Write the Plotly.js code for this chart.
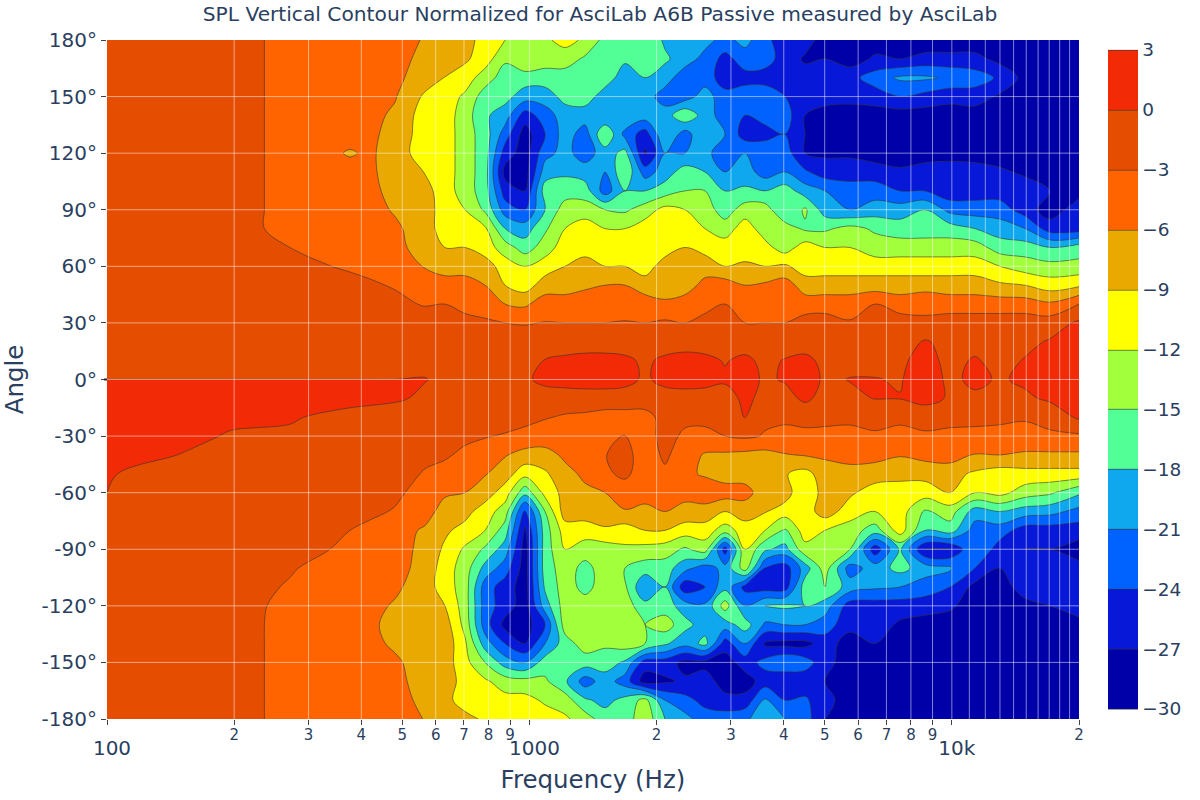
<!DOCTYPE html>
<html>
<head>
<meta charset="utf-8">
<script src="https://cdn.plot.ly/plotly-3.0.1.min.js"></script>
<style>body{margin:0;background:#fff}</style>
</head>
<body>
<div id="chart" style="width:1200px;height:800px"></div>
<script>
var freqs = [100,141,196,271,376,419,481,566,631,704,785,876,976,1089,1214,1354,1510,1684,1878,2094,2335,2604,2904,3238,3612,4028,4492,5009,5741,6580,7541,8642,9902,11350,13000,14900,17080,20000];
var angles = [180,170,160,150,140,130,120,110,100,90,80,70,60,50,40,30,20,10,0,-10,-20,-30,-40,-50,-60,-70,-80,-90,-100,-110,-120,-130,-140,-150,-160,-170,-180];
var spl = [
[-2,-2,-2.2,-3.6,-4.5,-4.7,-5,-6.2,-6.2,-8,-10,-12,-13.5,-12.5,-11,-12.5,-16,-16,-15.5,-18.5,-19.5,-20,-22,-20,-23,-26,-25.5,-28.5,-28.5,-28.5,-29,-29,-29,-29,-29,-29,-29,-29],
[-2,-2,-2.2,-3.6,-4.5,-4.7,-5,-6.8,-7,-8.5,-10.5,-14.5,-12,-13.5,-13.5,-15.5,-16.5,-17.5,-16.5,-17.5,-19.5,-22,-25,-22.5,-23,-25,-27.5,-27,-28.5,-26.5,-27,-26,-26,-26,-28,-28.5,-29,-29],
[-2,-2,-2.2,-3.6,-4.5,-4.8,-5.3,-7.5,-9.1,-10.5,-13.5,-16.5,-16.5,-16.5,-16.5,-16.5,-16.5,-19.5,-18,-19.5,-23,-22.5,-25.5,-25,-25,-25.5,-25.5,-25,-25,-22.5,-20.5,-20.5,-21.5,-22.5,-24.5,-28,-28.5,-29],
[-2,-2,-2.2,-3.6,-4.5,-5,-5.8,-9.5,-10.5,-12.5,-16.5,-17,-19.5,-19.5,-17,-16.5,-19.5,-21,-19.5,-22.5,-22.5,-19.5,-23,-22.5,-22.5,-24,-25,-25.5,-26,-25.5,-24,-25,-26,-25.5,-27.5,-28,-28.5,-29],
[-2,-2,-2.2,-3.6,-4.5,-5.2,-6.5,-10.5,-10.5,-13.5,-17.5,-19.5,-25.5,-22.5,-19.5,-19.5,-21,-18,-19.5,-19.5,-15.5,-19.5,-22.5,-24,-22.5,-22.5,-27,-28.5,-28.5,-28.5,-28.5,-28.5,-28.5,-28.5,-28.5,-28.5,-29,-29],
[-2,-2,-2.2,-3.6,-4.8,-5.4,-7,-10.5,-10.5,-13.5,-16.5,-22.5,-28.5,-24,-19.5,-22.5,-15,-22,-25.5,-18,-22.5,-18,-21,-25.5,-25.5,-24,-27,-28.5,-28.5,-28.5,-28.5,-28.5,-28.5,-28.5,-28.5,-29,-29,-29],
[-2,-2,-2.2,-3.6,-6.3,-5.5,-7.5,-10.5,-10.5,-13.5,-16.5,-25.5,-28.5,-22,-20,-22.5,-19.5,-17,-27.5,-21,-21,-19.5,-24,-21,-21,-22.5,-27,-27.5,-27.5,-28.5,-28.5,-28.5,-28.5,-28.5,-28.5,-28.5,-29,-29],
[-2,-2,-2.2,-3.6,-4.8,-5.4,-7.5,-9.1,-10.5,-13.5,-16.5,-28,-28.5,-19.5,-18.5,-19.5,-21,-15.5,-22.5,-19.5,-16.5,-18,-21,-19.5,-22.5,-21,-23.5,-25.5,-25.5,-25.5,-26.5,-25.5,-25,-25.5,-26.5,-27.5,-28.5,-28.5],
[-2,-2,-2.2,-3.6,-4.5,-5.2,-7,-8,-10.5,-13.5,-16.5,-25.5,-27,-16.5,-16.5,-16.5,-22.5,-18,-18,-16.5,-15,-15,-18,-17.5,-18,-16.5,-19.5,-21,-22.5,-22.5,-24,-24,-26,-25.5,-25.5,-25.5,-27,-28],
[-2,-2,-2.2,-3.6,-4.5,-5,-6.3,-7.5,-10.5,-12,-15.5,-22.5,-24,-18,-13.5,-13.5,-15,-15.5,-13.5,-11,-12,-13.5,-16.5,-13.5,-13.5,-18,-14.5,-19.5,-21,-19.5,-19.5,-18,-22,-22.5,-22.5,-25.5,-28.5,-25.5],
[-2,-2,-2.2,-3.6,-4.5,-4.8,-5.5,-7.5,-10.5,-10.5,-11.5,-18,-19.5,-15.5,-12,-10.5,-12,-12,-10.5,-10.5,-10.5,-12,-13.5,-10.5,-13.5,-13.5,-15.5,-15.5,-14,-15.5,-16.5,-16.5,-16.5,-18,-19.5,-21,-25.5,-25.5],
[-2,-2,-2.5,-3,-4.5,-4.6,-5,-7.5,-9,-9,-10.5,-13.5,-16.5,-13.5,-10.5,-10.5,-10.5,-10.5,-12,-10.5,-9,-10,-10.5,-10.5,-11,-13.5,-10.5,-12,-12,-13.5,-13.5,-13.5,-13.5,-13.5,-16.5,-16.5,-18,-16.5],
[-1.5,-1.5,-1.8,-2.3,-3.3,-3.6,-4,-6.2,-7.5,-7.5,-7.5,-10.5,-12,-10.5,-9,-7.5,-9,-9,-10.5,-7.5,-7.5,-7.5,-9,-8.5,-9,-8.5,-10.5,-10.5,-10.5,-10.5,-10.5,-10.5,-10.5,-10.5,-12,-13.5,-14,-14],
[-1.5,-1.5,-1.5,-1.8,-2.3,-2.7,-3.2,-4.5,-4.5,-4.5,-6,-9,-10.5,-7.5,-7.5,-6.5,-6,-6,-7.5,-7.5,-7.5,-5,-4.5,-6,-5.5,-4.5,-7.5,-7.5,-7.5,-7.5,-7.5,-7.5,-7.5,-7.5,-8.5,-9,-10.5,-9.5],
[-1.5,-1.5,-1.5,-1.5,-1.8,-2,-2.4,-3.2,-3,-4.5,-4.5,-6,-6.5,-4.5,-4.5,-4.5,-4.5,-4.5,-4.5,-5.5,-4.5,-4.5,-3,-4.5,-4.5,-4.5,-4.5,-4.5,-4.5,-3,-4.5,-3.3,-4.5,-4.5,-4.5,-4.5,-5.5,-3],
[-1.5,-1.2,-1.2,-1.2,-1.4,-1.4,-1.5,-1.5,-1.5,-1.5,-2.5,-3,-3.2,-2.9,-3,-3,-3,-2.8,-3,-2.5,-3,-1.5,-1.5,-3,-3,-3,-1.8,-1.5,-2.7,-1.5,-1.5,-2.8,-1.5,-1.5,-1.5,-1.5,-1.5,0.5],
[-1,-1,-1,-1,-1,-1,-1,-1,-1,-1,-1,-1.5,-1.5,-1.5,-1.5,-1.5,-1.5,-1.5,-1.5,-1.5,-1.2,-1.5,-1.5,-1.5,-1.5,-1.5,-1.5,-1.5,-1.5,-1.5,-1.5,0.3,-1,-1,-1,-0.8,0.3,1.5],
[-0.8,-0.8,-0.8,-0.8,-0.8,-0.8,-0.8,-0.8,-0.8,-0.8,-0.8,-0.8,-0.8,0.1,0.6,1,1,0.6,-0.5,0.6,1,0.8,-0.2,0.7,-0.8,0.2,0.8,-0.8,-0.8,-0.8,-0.5,1,-0.8,0.3,-1,0.2,1,1.5],
[0,0,0,0,0,0,0,0.1,-0.5,-0.5,-0.5,-0.5,-0.5,0.8,1.2,1.5,1.5,1,-0.5,1,1.5,1.2,0.5,1.3,-0.5,0.3,1.5,-0.5,0.1,0.1,-0.2,1.5,-0.6,0.6,-0.3,0.5,1.5,1.5],
[1.5,1.5,1.5,1.5,1,0.8,0.4,-0.5,-1,-1,-1,-1,-1.2,-1.5,-1.5,-1.5,-1.5,-1.5,-1.5,-1.5,-1.5,-1.5,-1.5,0.8,-1,-1.2,0.7,-1.2,-0.6,0.1,0.1,1.2,-0.4,-0.5,-1,-0.5,0.5,1.3],
[1.5,1.5,0.7,0.3,-1,-1.3,-1.5,-1.5,-1.5,-1.5,-1.5,-1.5,-2,-2.8,-3.3,-3.5,-4,-4,-4,-2,-2.2,-2.3,-2.2,0.2,-2.5,-2.8,-2.5,-2.5,-2.5,-2.5,-2.5,-2.2,-2.5,-2.5,-2.8,-2.8,-2,0.5],
[1.5,1.3,-0.3,-0.5,-1.5,-1.5,-1.5,-2,-2.2,-2.5,-2.8,-3.3,-4,-4.5,-4.5,-4.5,-4.5,-2.9,-4.5,-1.8,-3.6,-3.7,-3,-2.5,-3.2,-3.3,-3.4,-3.5,-3.7,-3.2,-3.7,-3.3,-3.4,-3.5,-3.3,-3.7,-3.5,-3.5],
[1.2,0.2,-1.5,-1.5,-1.5,-1.5,-1.5,-2.2,-2.7,-3.5,-4.5,-5.8,-7,-7,-5.5,-4.5,-3.1,-2,-4.5,-2.5,-4.5,-6.3,-6.5,-6.8,-7,-6.2,-5.8,-5.5,-5,-5,-5.8,-5,-4.5,-6.2,-6,-6.5,-6.5,-6.5],
[0.3,-1.5,-1.5,-1.5,-1.5,-1.5,-1.5,-3.3,-3.8,-4.3,-5.8,-7.5,-11,-9.5,-6.8,-5.5,-3.5,-2.4,-4.5,-3.5,-5.5,-6.3,-7.5,-7.2,-7.5,-8.8,-10,-7.5,-7,-7.5,-8,-8,-8,-9.5,-10.5,-10,-10,-10],
[0,-1.5,-1.5,-1.5,-1.8,-2,-2.5,-4,-5.5,-6,-7.5,-10.5,-17,-11,-8,-6.5,-6,-4.5,-4.5,-4.5,-5,-4.5,-4.5,-5,-7.5,-7.5,-11.8,-7.5,-8.5,-10.5,-10.5,-10.5,-9,-12,-11,-13.5,-14.5,-17.5],
[-1.5,-1.5,-1.5,-1.5,-2,-2.5,-3.2,-4.5,-7.5,-8,-10.5,-13.5,-25,-15,-7.5,-7.5,-7,-6.2,-7,-6,-7,-7,-9,-7.5,-8.8,-10.5,-10.5,-7.5,-10.5,-12,-10.5,-15.5,-13.5,-19.5,-18,-19.5,-20,-22],
[-1.5,-1.5,-1.5,-1.5,-3,-3.6,-4.5,-6.5,-8.5,-10,-12,-16.5,-27.5,-16.5,-10.5,-10.5,-9.5,-10.5,-9,-9,-10.5,-10.5,-13.5,-10.5,-12,-15.5,-10.5,-12,-13.5,-16.5,-10.5,-18,-16.5,-22.5,-22.5,-25.5,-25.5,-25.5],
[-1.5,-1.5,-1.5,-2,-3.5,-4,-4.5,-7,-9.5,-12.5,-15.5,-19.5,-28.5,-16.5,-12,-13.5,-13.5,-12.5,-13,-13.5,-15.5,-13.5,-25.5,-12,-17.5,-19,-13,-13.5,-15,-26,-17.5,-27,-27,-21,-25.5,-27,-27,-28.5],
[-1.5,-1.5,-1.5,-2.8,-4.2,-4.6,-5,-7,-10.5,-13.5,-19,-22.5,-28.5,-16.5,-13.5,-16,-13.5,-15,-16.5,-16.5,-20,-22.5,-20,-13.5,-24,-25.5,-19.5,-13.5,-22.5,-19.5,-17,-19.5,-20.5,-24,-27,-25.5,-24,-26],
[-1.5,-1.5,-2,-3.2,-4.5,-5,-5.5,-7.5,-10.5,-13.5,-22.5,-25.5,-28.5,-17.5,-13.5,-16,-13.5,-14.5,-21,-18,-26,-24,-19,-25,-25.5,-25.5,-16.5,-15,-19.5,-20.5,-21,-22.5,-24,-28,-28.5,-25.5,-24,-25],
[-1.5,-1.5,-2.2,-3.5,-4.5,-5.2,-6.3,-7.5,-9,-13.5,-22.5,-25.5,-28.5,-19.5,-13.5,-13.5,-13.5,-13.5,-17,-16.5,-19.5,-20.5,-13.5,-21,-18,-17.5,-18,-19.5,-25.5,-25.5,-25.5,-25.5,-26.5,-28.5,-28.5,-28,-27,-25.5],
[-1.5,-1.5,-2.2,-3.6,-4.5,-5.4,-7,-7.5,-7.5,-13,-22.5,-28,-28.5,-24,-13.5,-13.5,-13.5,-13.5,-15,-13.5,-17,-19.5,-19.5,-16.5,-21.5,-21,-21,-22.5,-26,-25.5,-27.5,-28.5,-28.5,-28.5,-28.5,-28.5,-28.5,-28],
[-1.5,-1.5,-2.2,-3.6,-4.5,-5.2,-6.5,-7.5,-7,-11.5,-19.5,-24,-27,-21,-16.5,-13.5,-14.5,-13.5,-15,-17.5,-20,-17,-25.5,-21,-27.5,-28,-28,-25.5,-28.5,-27,-28.5,-28.5,-29,-29,-29,-29,-29,-29],
[-1.5,-1.5,-2.2,-3.6,-4.5,-5,-5.5,-7.5,-7.5,-11,-15,-19.5,-21,-16.5,-16.5,-16.5,-16.5,-18.5,-25.5,-25.5,-28,-28,-28.5,-25.5,-23,-21,-22.5,-26,-28.5,-28.5,-29,-29,-29,-29,-29,-29,-29,-29],
[-1.5,-1.5,-2.2,-3.6,-4.5,-4.7,-5,-7.5,-7,-10.5,-11.5,-13.5,-14,-14.5,-17.5,-22.5,-19.5,-22.5,-28.5,-27.5,-26.5,-25.5,-28.5,-28.5,-25.5,-27,-26,-27,-28.5,-29,-29,-29,-29,-29,-29,-29,-29,-29],
[-1.5,-1.5,-2.2,-3.6,-4.5,-4.6,-4.8,-6.8,-8,-10.5,-11,-11,-11,-12.5,-13.5,-17.5,-19,-17,-14,-21,-23,-25,-26,-26,-20.5,-24,-23.5,-26,-28.5,-28,-29,-29,-29,-29,-29,-29,-29,-29],
[-1.5,-1.5,-2.2,-3.6,-4.5,-4.6,-4.8,-6.1,-6.5,-8,-9.5,-10.5,-10.5,-10.5,-11.5,-13.5,-16.5,-16.5,-13,-18,-20,-22.5,-22.5,-21.5,-19.5,-21,-22.5,-27,-28.5,-28,-28,-29,-28.5,-29,-29,-29,-29,-29]
];
// one colour per 3 dB band, -30 up to +3
var bandColors = ['#0000a8','#0818d8','#0063ff','#0fa8ee','#52ff96','#a2ff3c','#ffff00','#eaa900','#ff6400','#e54d00','#f22a05'];
var gridFreqs = [200,300,400,500,600,700,800,900,1000,2000,3000,4000,5000,6000,7000,8000,9000,10000,11000,12000,13000,14000,15000,16000,17000,18000,19000];
var gridAngles = [-150,-120,-90,-60,-30,0,30,60,90,120,150];

var colorscale = [[0, bandColors[0]]];
bandColors.forEach(function(c, i) {
  colorscale.push([(i + 0.5) / bandColors.length, c]);
});
colorscale.push([1, bandColors[bandColors.length - 1]]);

// the grid sits on top of the contours here, so it is drawn as shapes
var gridStyle = {color: 'rgba(255,255,255,0.5)', width: 1};
var shapes = [];
gridFreqs.forEach(function(f) {
  shapes.push({type: 'line', layer: 'above', xref: 'x', yref: 'paper', x0: f, x1: f, y0: 0, y1: 1, line: gridStyle});
});
gridAngles.forEach(function(a) {
  shapes.push({type: 'line', layer: 'above', xref: 'paper', yref: 'y', x0: 0, x1: 1, y0: a, y1: a, line: gridStyle});
});
// little dark stub left of the axis at 0°
shapes.push({type: 'line', layer: 'above', xref: 'paper', yref: 'y', x0: -0.003, x1: 0, y0: 0, y1: 0, line: {color: '#222', width: 2}});

var trace = {
  type: 'contour',
  x: freqs,
  y: angles,
  z: spl,
  zmin: -30,
  zmax: 3,
  colorscale: colorscale,
  contours: {coloring: 'fill', start: -30, end: 3, size: 3},
  line: {color: '#333', width: 0.6},
  colorbar: {
    tickmode: 'linear',
    tick0: -30,
    dtick: 3,
    outlinewidth: 0,
    ticks: '',
    tickfont: {size: 18.5, color: '#2a3f5f'}
  }
};

var fontFamily = '"DejaVu Sans", Verdana, sans-serif';
var layout = {
  width: 1200,
  height: 800,
  margin: {l: 107, r: 121, t: 40, b: 81},
  font: {family: fontFamily, color: '#2a3f5f'},
  paper_bgcolor: '#fff',
  plot_bgcolor: '#fff',
  title: {text: 'SPL Vertical Contour Normalized for AsciLab A6B Passive measured by AsciLab', font: {size: 20.2, color: '#2a3f5f'}, x: 0.5, xanchor: 'center', y: 0.982, yanchor: 'middle'},
  xaxis: {
    type: 'log',
    range: [2, 4.301],
    title: {text: 'Frequency (Hz)', font: {size: 24.5}, standoff: 11},
    tickfont: {size: 20},
    ticklabelstandoff: -4,
    showgrid: false,
    zeroline: false,
    showline: false
  },
  yaxis: {
    range: [-180, 180],
    tickmode: 'array',
    tickvals: [-180,-150,-120,-90,-60,-30,0,30,60,90,120,150,180],
    ticktext: ['-180°','-150°','-120°','-90°','-60°','-30°','0°','30°','60°','90°','120°','150°','180°'],
    title: {text: 'Angle', font: {size: 24.5}, standoff: 12},
    tickfont: {size: 20},
    showgrid: false,
    zeroline: false,
    showline: false
  },
  shapes: shapes
};

Plotly.newPlot('chart', [trace], layout, {displayModeBar: false});
</script>
</body>
</html>
